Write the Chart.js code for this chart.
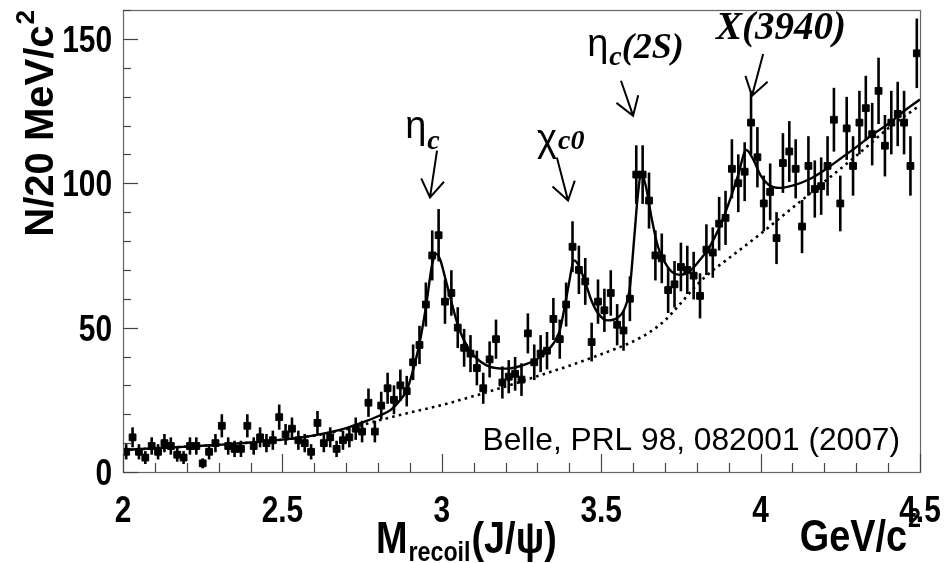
<!DOCTYPE html>
<html>
<head>
<meta charset="utf-8">
<script src="https://cdn.jsdelivr.net/npm/chart.js@4.4.1/dist/chart.umd.min.js"></script>
<style>
  html, body { margin: 0; padding: 0; background: #fff; }
  #wrap { width: 946px; height: 563px; position: relative; }
</style>
</head>
<body>
<div id="wrap"><canvas id="c" width="946" height="563"></canvas></div>
<script>
// Recoil mass bin centres (GeV/c^2), 20 MeV bins
const massBins = [
  2.01,2.03,2.05,2.07,2.09,2.11,2.13,2.15,2.17,2.19,
  2.21,2.23,2.25,2.27,2.29,2.31,2.33,2.35,2.37,2.39,
  2.41,2.43,2.45,2.47,2.49,2.51,2.53,2.55,2.57,2.59,
  2.61,2.63,2.65,2.67,2.69,2.71,2.73,2.75,2.77,2.79,
  2.81,2.83,2.85,2.87,2.89,2.91,2.93,2.95,2.97,2.99,
  3.01,3.03,3.05,3.07,3.09,3.11,3.13,3.15,3.17,3.19,
  3.21,3.23,3.25,3.27,3.29,3.31,3.33,3.35,3.37,3.39,
  3.41,3.43,3.45,3.47,3.49,3.51,3.53,3.55,3.57,3.59,
  3.61,3.63,3.65,3.67,3.69,3.71,3.73,3.75,3.77,3.79,
  3.81,3.83,3.85,3.87,3.89,3.91,3.93,3.95,3.97,3.99,
  4.01,4.03,4.05,4.07,4.09,4.11,4.13,4.15,4.17,4.19,
  4.21,4.23,4.25,4.27,4.29,4.31,4.33,4.35,4.37,4.39,
  4.41,4.43,4.45,4.47,4.49
];

// Events per bin
const counts = [
  7,12,7,5,9,7,10,9,6,5,
  9,9,3,7,10,16,9,8,8,16,
  9,12,10,11,19,13,15,11,10,7,
  17,10,12,8,11,12,15,14,24,14,
  23,29,25,30,28,38,44,58,75,82,
  59,62,50,43,41,36,29,39,46,31,
  33,34,32,48,38,41,42,53,46,58,
  78,70,66,45,59,56,62,51,49,60,
  103,103,94,75,74,63,65,71,70,68,
  61,77,76,86,88,105,100,104,121,109,
  93,97,81,107,111,105,85,106,98,99,
  106,122,93,119,106,121,126,117,132,113,
  121,124,121,106,145
];

// Total fit curve (signal peaks + background)
const fitMass = [
  2.00,2.10,2.20,2.30,2.40,2.50,2.60,2.70,2.76,2.80,
  2.84,2.87,2.89,2.91,2.93,2.95,2.97,2.983,2.995,3.01,
  3.03,3.05,3.07,3.10,3.15,3.20,3.25,3.30,3.35,3.37,
  3.385,3.40,3.414,3.427,3.448,3.469,3.49,3.52,3.55,3.575,
  3.59,3.605,3.615,3.626,3.64,3.658,3.678,3.70,3.72,3.75,
  3.78,3.81,3.84,3.87,3.90,3.93,3.955,3.978,4.00,4.025,
  4.06,4.10,4.15,4.20,4.25,4.30,4.35,4.40,4.45,4.50
];
const fitValues = [
  7.6,8.2,8.8,9.4,10.2,11.2,12.7,15.2,17.5,19.3,
  21.5,25,28.3,35.3,44.5,57,72,75.5,73.5,67.5,
  59,51,45.5,40.4,36.5,35.8,36.8,39.2,44.5,49,
  57,66,73.3,72,66.4,59.5,55,52.5,53.3,57,
  64,83,96,103.5,99,88,78,72.5,69.5,68.3,
  69.8,73.5,78,84.5,93,103,111.5,108,102.7,99.5,
  98.4,99.2,101.2,104.5,108.5,112.5,116.8,120.5,125,129
];

// Background component of the fit
const bkgMass = [
  2.00,2.10,2.20,2.30,2.40,2.50,2.60,2.70,2.80,2.90,
  3.00,3.10,3.20,3.30,3.40,3.50,3.60,3.65,3.70,3.75,
  3.80,3.85,3.90,4.00,4.10,4.20,4.30,4.40,4.50
];
const bkgValues = [
  7.6,8.2,8.8,9.4,10.2,11.2,12.6,14.8,17.8,20.6,
  23.2,26.3,29.6,33.2,36.8,40.8,45.2,48.3,52.5,58.5,
  64.8,69.8,74,82.5,91.5,100.5,109.5,119,127
];

const xTickValues = [2, 2.5, 3, 3.5, 4, 4.5];
const yTickValues = [0, 50, 100, 150];
const xMinorStep = 0.1;
const yMinorStep = 10;

const SANS = '"Liberation Sans", Arial, sans-serif';
const SERIF = '"Liberation Serif", "Times New Roman", serif';

function text(ctx, s, x, y, font, align, sx) {
  ctx.save();
  ctx.font = font;
  ctx.textAlign = align || 'left';
  ctx.textBaseline = 'alphabetic';
  ctx.translate(x, y);
  ctx.scale(sx || 1, 1);
  ctx.fillText(s, 0, 0);
  ctx.restore();
}
function width(ctx, s, font, sx) {
  ctx.save(); ctx.font = font;
  const w = ctx.measureText(s).width * (sx || 1);
  ctx.restore();
  return w;
}

// Poisson error bars under the markers
const errorBars = {
  id: 'errorBars',
  beforeDatasetsDraw(chart) {
    const { ctx, chartArea: a, scales: { x, y } } = chart;
    ctx.save();
    ctx.beginPath();
    ctx.rect(a.left, a.top, a.right - a.left, a.bottom - a.top);
    ctx.clip();
    ctx.strokeStyle = '#000';
    ctx.lineWidth = 2.6;
    counts.forEach((n, i) => {
      const px = x.getPixelForValue(massBins[i]);
      const e = Math.sqrt(n);
      ctx.beginPath();
      ctx.moveTo(px, y.getPixelForValue(n - e));
      ctx.lineTo(px, y.getPixelForValue(n + e));
      ctx.stroke();
    });
    ctx.restore();
  }
};

// Frame, inward ticks, tick labels, titles and peak annotations
const decorations = {
  id: 'decorations',
  afterDraw(chart) {
    const { ctx, chartArea: a, scales: { x, y } } = chart;
    ctx.save();

    // frame
    ctx.strokeStyle = '#666';
    ctx.lineWidth = 1.2;
    ctx.strokeRect(a.left + 0.5, a.top + 0.5, a.right - a.left, a.bottom - a.top);

    // ticks pointing into the plot
    ctx.strokeStyle = '#444';
    ctx.lineWidth = 1.2;
    for (let v = x.min; v <= x.max + 1e-9; v += xMinorStep) {
      const vv = Math.round(v * 10) / 10;
      const major = xTickValues.includes(vv);
      const px = Math.round(x.getPixelForValue(vv)) + 0.5;
      ctx.beginPath();
      ctx.moveTo(px, a.bottom);
      ctx.lineTo(px, a.bottom - (major ? 18 : 9));
      ctx.stroke();
    }
    for (let v = y.min; v <= y.max + 1e-9; v += yMinorStep) {
      const major = yTickValues.includes(v);
      const py = Math.round(y.getPixelForValue(v)) + 0.5;
      ctx.beginPath();
      ctx.moveTo(a.left, py);
      ctx.lineTo(a.left + (major ? 15 : 8), py);
      ctx.stroke();
    }

    // tick labels
    ctx.fillStyle = '#000';
    const tickFont = 'bold 36px ' + SANS;
    xTickValues.forEach(v => {
      text(ctx, String(v), x.getPixelForValue(v), a.bottom + 50, tickFont, 'center', 0.83);
    });
    yTickValues.forEach(v => {
      text(ctx, String(v), a.left - 11, y.getPixelForValue(v) + 13, tickFont, 'right', 0.83);
    });

    // x-axis title
    const tFont = 'bold 44px ' + SANS;
    const sFont = 'bold 27px ' + SANS;
    let cx = 376;
    text(ctx, 'M', cx, 553, tFont, 'left', 0.86);
    cx += width(ctx, 'M', tFont, 0.86) + 1;
    text(ctx, 'recoil', cx, 561, sFont, 'left', 0.86);
    cx += width(ctx, 'recoil', sFont, 0.86) + 1;
    text(ctx, '(J/\u03C8)', cx, 553, tFont, 'left', 0.86);
    const unitW = width(ctx, 'GeV/c', tFont, 0.86);
    const supW = width(ctx, '2', sFont, 0.86);
    const ux = a.right - supW - unitW;
    text(ctx, 'GeV/c', ux, 551, tFont, 'left', 0.86);
    text(ctx, '2', ux + unitW + 1, 527, sFont, 'left', 0.86);

    // y-axis title, rotated, ending at the top of the axis
    ctx.save();
    ctx.translate(53, 10);
    ctx.rotate(-Math.PI / 2);
    const yFont = 'bold 40px ' + SANS;
    const ySup = 'bold 26px ' + SANS;
    const w2 = width(ctx, '2', ySup, 1);
    const wMain = width(ctx, 'N/20 MeV/c', yFont, 1);
    text(ctx, 'N/20 MeV/c', -w2 - wMain - 1, 0, yFont, 'left', 1);
    text(ctx, '2', -w2, -19, ySup, 'left', 1);
    ctx.restore();

    // reference note
    text(ctx, 'Belle, PRL 98, 082001 (2007)', a.right - 20, a.bottom - 22, '31.7px ' + SANS, 'right', 1);

    // peak annotations: label anchor, arrow tip and arrow tail in data units
    const notes = [
      { name: '\u03B7', sub: 'c', subDy: 11, rest: '', at: [2.885, 115.8], tip: [2.963, 95.1], tail: [2.985, 111.3] },
      { name: '\u03C7', sub: 'c0', subDy: -2, rest: '', at: [3.299, 111.3], tip: [3.396, 94.0], tail: [3.361, 108.9] },
      { name: '\u03B7', sub: 'c', subDy: 9, rest: '(2S)', at: [3.456, 144.1], tip: [3.600, 123.4], tail: [3.562, 135.5] },
      { name: '', sub: '', subDy: 0, rest: 'X(3940)', at: [3.860, 150.0], tip: [3.973, 130.3], tail: [4.008, 144.8] }
    ];
    const greekFont = '38px ' + SANS;
    const subFont = 'italic bold 28px ' + SERIF;
    const restFont = 'italic bold 36px ' + SERIF;
    notes.forEach(n => {
      let lx = x.getPixelForValue(n.at[0]);
      const ly = y.getPixelForValue(n.at[1]);
      if (n.name) {
        text(ctx, n.name, lx, ly, greekFont, 'left', 1);
        lx += width(ctx, n.name, greekFont, 1) + 1;
      }
      if (n.sub) {
        text(ctx, n.sub, lx, ly + n.subDy, subFont, 'left', 1);
        lx += width(ctx, n.sub, subFont, 1);
      }
      if (n.rest) {
        const f = n.name ? restFont : 'italic bold 39px ' + SERIF;
        text(ctx, n.rest, lx, ly + (n.name ? 2 : 0), f, 'left', 1);
      }
      const tx = x.getPixelForValue(n.tip[0]), ty = y.getPixelForValue(n.tip[1]);
      const sx = x.getPixelForValue(n.tail[0]), sy = y.getPixelForValue(n.tail[1]);
      const ang = Math.atan2(sy - ty, sx - tx);
      ctx.strokeStyle = '#000';
      ctx.lineWidth = 2;
      ctx.beginPath();
      ctx.moveTo(sx, sy);
      ctx.lineTo(tx, ty);
      ctx.moveTo(tx + 21 * Math.cos(ang - 0.58), ty + 21 * Math.sin(ang - 0.58));
      ctx.lineTo(tx, ty);
      ctx.lineTo(tx + 21 * Math.cos(ang + 0.58), ty + 21 * Math.sin(ang + 0.58));
      ctx.stroke();
    });

    ctx.restore();
  }
};

const toXY = (xs, ys) => xs.map((v, i) => ({ x: v, y: ys[i] }));

new Chart(document.getElementById('c'), {
  type: 'scatter',
  data: {
    datasets: [
      {
        label: 'data',
        data: toXY(massBins, counts),
        pointStyle: 'rect',
        pointRadius: 4.8,
        backgroundColor: '#000',
        borderColor: '#000',
        borderWidth: 1,
        showLine: false
      },
      {
        label: 'fit',
        data: toXY(fitMass, fitValues),
        showLine: true,
        pointRadius: 0,
        borderColor: '#000',
        borderWidth: 2.4,
        cubicInterpolationMode: 'monotone',
        fill: false
      },
      {
        label: 'background',
        data: toXY(bkgMass, bkgValues),
        showLine: true,
        pointRadius: 0,
        borderColor: '#000',
        borderWidth: 2.6,
        borderDash: [2.6, 4.2],
        cubicInterpolationMode: 'monotone',
        fill: false
      }
    ]
  },
  options: {
    responsive: false,
    devicePixelRatio: 1,
    animation: false,
    layout: { padding: { left: 123, top: 10, right: 26, bottom: 91 } },
    plugins: { legend: { display: false }, tooltip: { enabled: false } },
    scales: {
      x: { type: 'linear', min: 2, max: 4.5, display: false },
      y: { type: 'linear', min: 0, max: 160, display: false }
    }
  },
  plugins: [errorBars, decorations]
});
</script>
</body>
</html>
